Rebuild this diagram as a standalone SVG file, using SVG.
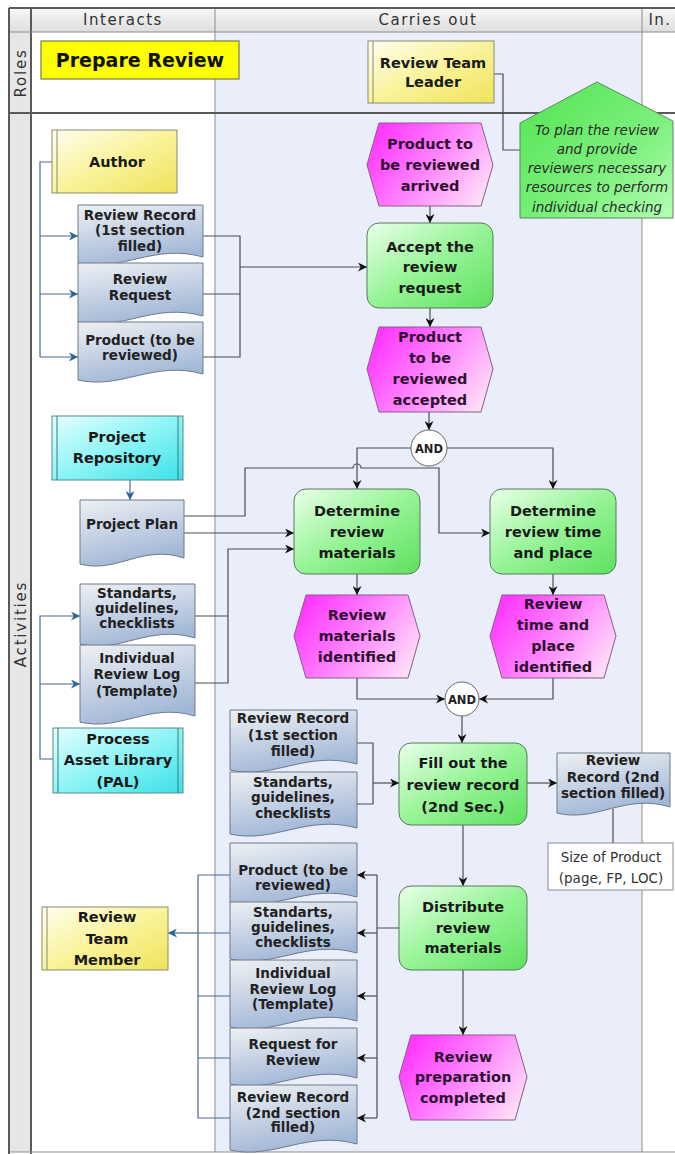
<svg xmlns="http://www.w3.org/2000/svg" width="675" height="1154" viewBox="0 0 675 1154">
  <style>
    text { font-family: "DejaVu Sans", "Liberation Sans", sans-serif; text-anchor: middle; }
    .hdr { font-size: 15px; fill: #333; letter-spacing: 1.5px; }
    .side { font-size: 15px; fill: #333; letter-spacing: 1.8px; }
    .t { font-size: 14.5px; font-weight: bold; fill: #1a1a1a; }
    .te { font-size: 14.5px; font-weight: bold; fill: #301030; }
    .td { font-size: 13.5px; font-weight: bold; fill: #222; }
    .tn { font-size: 13.5px; font-style: italic; fill: #2a2a2a; }
    .tp { font-size: 13.5px; fill: #333; }
    .role { fill: url(#gYellow); stroke: #8a8a70; stroke-width: 1; }
    .repo { fill: url(#gCyan); stroke: #5a8a8a; stroke-width: 1; }
    .func { fill: url(#gFunc); stroke: #5a7a5a; stroke-width: 1; }
    .evt { fill: url(#gEvt); stroke: #8a5a8a; stroke-width: 1; }
    .doc { fill: url(#gDoc); stroke: #6d7a8a; stroke-width: 1; }
    .dbl { stroke: #8a8a70; stroke-width: 1; fill: none; }
    .dblc { stroke: #3a7a7a; stroke-width: 1; fill: none; }
    .c { fill: none; stroke: #4d4d4d; stroke-width: 1.2; }
    .ca { fill: none; stroke: #4d4d4d; stroke-width: 1.2; marker-end: url(#ah); }
    .cb { fill: none; stroke: #4a6a8e; stroke-width: 1.2; }
    .cba { fill: none; stroke: #4a6a8e; stroke-width: 1.2; marker-end: url(#ahb); }
    .grid { stroke: #8c8c8c; stroke-width: 1; fill: none; }
    .gridk { stroke: #5a5a5a; stroke-width: 2; fill: none; }
  </style>
  <defs>
    <linearGradient id="gYellow" x1="0" y1="0" x2="1" y2="1">
      <stop offset="0" stop-color="#fffef0"/>
      <stop offset="0.5" stop-color="#f9f39a"/>
      <stop offset="1" stop-color="#efe35a"/>
    </linearGradient>
    <linearGradient id="gCyan" x1="0" y1="0" x2="1" y2="1">
      <stop offset="0" stop-color="#e4ffff"/>
      <stop offset="0.5" stop-color="#8ef4f6"/>
      <stop offset="1" stop-color="#3ae0e6"/>
    </linearGradient>
    <linearGradient id="gFunc" x1="0" y1="0" x2="1" y2="1">
      <stop offset="0" stop-color="#eaffea"/>
      <stop offset="0.5" stop-color="#96f496"/>
      <stop offset="1" stop-color="#5ee05e"/>
    </linearGradient>
    <linearGradient id="gEvt" x1="0" y1="0.3" x2="1" y2="0.8">
      <stop offset="0" stop-color="#ff38ff"/>
      <stop offset="0.5" stop-color="#ff88ff"/>
      <stop offset="1" stop-color="#ffe2f6"/>
    </linearGradient>
    <linearGradient id="gDoc" x1="0" y1="0" x2="0.35" y2="1">
      <stop offset="0" stop-color="#eef1f4"/>
      <stop offset="1" stop-color="#a2b7d6"/>
    </linearGradient>
    <linearGradient id="gNote" x1="0" y1="0" x2="1" y2="1">
      <stop offset="0" stop-color="#52e452"/>
      <stop offset="0.6" stop-color="#7cf07c"/>
      <stop offset="1" stop-color="#b4ffb4"/>
    </linearGradient>
    <linearGradient id="gHead" x1="0" y1="0" x2="0" y2="1">
      <stop offset="0" stop-color="#f6f6f6"/>
      <stop offset="1" stop-color="#dedede"/>
    </linearGradient>
    <marker id="ah" viewBox="0 0 10 10" refX="10" refY="5" markerWidth="10" markerHeight="9" orient="auto" markerUnits="userSpaceOnUse">
      <path d="M0,0 L10,5 L0,10 L3,5 Z" fill="#111"/>
    </marker>
    <marker id="ahb" viewBox="0 0 10 10" refX="10" refY="5" markerWidth="10" markerHeight="9" orient="auto" markerUnits="userSpaceOnUse">
      <path d="M0,0 L10,5 L0,10 L3,5 Z" fill="#2c6496"/>
    </marker>
  </defs>

  <!-- swimlane grid -->
  <g id="lanes">
    <rect x="0" y="0" width="675" height="1154" fill="#ffffff"/>
    <rect x="215" y="32" width="427" height="1120" fill="#e9eefa"/>
    <rect x="10" y="9" width="665" height="23" fill="url(#gHead)"/>
    <rect x="10" y="32" width="21" height="1120" fill="#e6e6e6"/>
    <path class="gridk" d="M9,8 H675 M9,8 V1154"/>
    <path class="gridk" d="M31,9 V1154"/>
    <path class="grid" d="M10,32 H675 M215,9 V1152 M642,9 V1152 M10,1152 H675"/>
    <path class="gridk" d="M10,113 H675" stroke="#8a8a8a"/>
    <text class="hdr" x="123" y="25">Interacts</text>
    <text class="hdr" x="428" y="25">Carries out</text>
    <text class="hdr" x="660" y="25">In.</text>
    <text class="side" transform="translate(26,73) rotate(-90)">Roles</text>
    <text class="side" transform="translate(26,624) rotate(-90)">Activities</text>
  </g>

  <!-- connectors -->
  <g id="connectors">
    <path class="c" d="M494,74 H503 V150 H520"/>
    <path class="cb" d="M52,162 H40 V357"/>
    <path class="cba" d="M40,236 H78"/>
    <path class="cba" d="M40,294 H78"/>
    <path class="cba" d="M40,357 H78"/>
    <path class="c" d="M203,236 H240 V357 H203 M203,294 H240"/>
    <path class="ca" d="M240,267 H367"/>
    <path class="ca" d="M430,206 V223"/>
    <path class="ca" d="M430,308 V327"/>
    <path class="ca" d="M429,412 V430"/>
    <path class="ca" d="M411,448 H357 V489"/>
    <path class="ca" d="M447,448 H553 V489"/>
    <path class="cba" d="M130,480 V500"/>
    <path class="ca" d="M184,516 H245 V468 H353 A4,4 0 0 1 361,468 H439 V533 H490"/>
    <path class="ca" d="M184,533 H294"/>
    <path class="c" d="M195,616 H228"/>
    <path class="ca" d="M195,683 H228 V549 H294"/>
    <path class="cb" d="M53,759 H40 V684"/>
    <path class="cba" d="M40,684 V616 H80"/>
    <path class="cba" d="M40,684 H80"/>
    <path class="ca" d="M357,574 V595"/>
    <path class="ca" d="M553,574 V595"/>
    <path class="ca" d="M357,678 V699 H445"/>
    <path class="ca" d="M553,678 V699 H479"/>
    <path class="ca" d="M462,716 V743"/>
    <path class="c" d="M357,743 H373 V804 H357"/>
    <path class="ca" d="M373,783 H399"/>
    <path class="ca" d="M527,783 H557"/>
    <path class="c" d="M613,809 V843"/>
    <path class="ca" d="M463,825 V886"/>
    <path class="ca" d="M463,970 V1035"/>
    <path class="c" d="M399,928 H377 M377,875 V1118"/>
    <path class="ca" d="M377,875 H357"/>
    <path class="ca" d="M377,933 H357"/>
    <path class="ca" d="M377,996 H357"/>
    <path class="ca" d="M377,1058 H357"/>
    <path class="ca" d="M377,1118 H357"/>
    <path class="cb" d="M230,875 H198 V1118 H230 M198,933 H230 M198,996 H230 M198,1058 H230"/>
    <path class="cba" d="M198,933 H168"/>
  </g>

  <!-- roles -->
  <g id="prepare-review">
    <rect x="41" y="41" width="198" height="38" fill="#ffff00" stroke="#7a7a50" stroke-width="1.2"/>
    <text x="140" y="67" style="font-size:19px;font-weight:bold;fill:#111">Prepare Review</text>
  </g>
  <g id="review-team-leader">
    <rect class="role" x="368" y="41" width="126" height="62"/>
    <path class="dbl" d="M373,41 V103"/>
    <text class="t" x="433" y="68">Review Team</text>
    <text class="t" x="433" y="87">Leader</text>
  </g>
  <g id="goal-note">
    <polygon points="520,123 597,82 673,121 673,218 520,218" fill="url(#gNote)" stroke="#5a8a5a" stroke-width="1"/>
    <text class="tn" x="597" y="135">To plan the review</text>
    <text class="tn" x="597" y="154">and provide</text>
    <text class="tn" x="597" y="173">reviewers necessary</text>
    <text class="tn" x="597" y="192">resources to perform</text>
    <text class="tn" x="597" y="212">individual checking</text>
  </g>
  <g id="author">
    <rect class="role" x="52" y="130" width="125" height="63"/>
    <path class="dbl" d="M57,130 V193"/>
    <text class="t" x="117" y="167">Author</text>
  </g>

  <!-- documents handed over by the author -->
  <g id="doc-review-record-1">
    <path class="doc" d="M78,205 H203 V257 C153,243 121.75,273 78,263 Z"/>
    <text class="td" x="140" y="220">Review Record</text>
    <text class="td" x="140" y="235">(1st section</text>
    <text class="td" x="140" y="251">filled)</text>
  </g>
  <g id="doc-review-request">
    <path class="doc" d="M78,263 H203 V316 C153,302 121.75,332 78,322 Z"/>
    <text class="td" x="140" y="284">Review</text>
    <text class="td" x="140" y="300">Request</text>
  </g>
  <g id="doc-product-1">
    <path class="doc" d="M78,322 H203 V374 C153,360 121.75,390 78,380 Z"/>
    <text class="td" x="140" y="345">Product (to be</text>
    <text class="td" x="140" y="360">reviewed)</text>
  </g>

  <!-- main flow -->
  <g id="evt-product-arrived">
    <polygon class="evt" points="379,123 481,123 493,165 481,206 379,206 367,165"/>
    <text class="te" x="430" y="149">Product to</text>
    <text class="te" x="430" y="170">be reviewed</text>
    <text class="te" x="430" y="191">arrived</text>
  </g>
  <g id="fn-accept-request">
    <rect class="func" x="367" y="223" width="126" height="85" rx="12"/>
    <text class="t" x="430" y="252">Accept the</text>
    <text class="t" x="430" y="272">review</text>
    <text class="t" x="430" y="293">request</text>
  </g>
  <g id="evt-product-accepted">
    <polygon class="evt" points="379,327 481,327 493,369 481,412 379,412 367,369"/>
    <text class="te" x="430" y="342">Product</text>
    <text class="te" x="430" y="363">to be</text>
    <text class="te" x="430" y="384">reviewed</text>
    <text class="te" x="430" y="405">accepted</text>
  </g>
  <g id="and-split">
    <circle cx="429" cy="448" r="18" fill="#ffffff" stroke="#666" stroke-width="1"/>
    <text x="429" y="452.5" style="font-size:11.5px;font-weight:bold;fill:#222">AND</text>
  </g>

  <g id="project-repository">
    <rect class="repo" x="52" y="416" width="131" height="64"/>
    <path class="dblc" d="M57,416 V480 M178,416 V480"/>
    <text class="t" x="117" y="442">Project</text>
    <text class="t" x="117" y="463">Repository</text>
  </g>
  <g id="doc-project-plan">
    <path class="doc" d="M80,500 H184 V558 C142.4,544 116.4,574 80,564 Z"/>
    <text class="td" x="132" y="529">Project Plan</text>
  </g>
  <g id="doc-standards-1">
    <path class="doc" d="M80,584 H195 V638 C149,624 120.25,654 80,644 Z"/>
    <text class="td" x="137" y="598">Standarts,</text>
    <text class="td" x="137" y="613">guidelines,</text>
    <text class="td" x="137" y="628">checklists</text>
  </g>
  <g id="doc-review-log-1">
    <path class="doc" d="M80,645 H195 V716 C149,702 120.25,732 80,722 Z"/>
    <text class="td" x="137" y="663">Individual</text>
    <text class="td" x="137" y="679">Review Log</text>
    <text class="td" x="137" y="696">(Template)</text>
  </g>
  <g id="process-asset-library">
    <rect class="repo" x="53" y="728" width="130" height="65"/>
    <path class="dblc" d="M58,728 V793 M178,728 V793"/>
    <text class="t" x="118" y="744">Process</text>
    <text class="t" x="118" y="765">Asset Library</text>
    <text class="t" x="118" y="787">(PAL)</text>
  </g>

  <g id="fn-determine-materials">
    <rect class="func" x="294" y="489" width="126" height="85" rx="12"/>
    <text class="t" x="357" y="516">Determine</text>
    <text class="t" x="357" y="537">review</text>
    <text class="t" x="357" y="558">materials</text>
  </g>
  <g id="fn-determine-time">
    <rect class="func" x="490" y="489" width="126" height="85" rx="12"/>
    <text class="t" x="553" y="516">Determine</text>
    <text class="t" x="553" y="537">review time</text>
    <text class="t" x="553" y="558">and place</text>
  </g>
  <g id="evt-materials-identified">
    <polygon class="evt" points="306,595 408,595 420,636 408,678 306,678 294,636"/>
    <text class="te" x="357" y="620">Review</text>
    <text class="te" x="357" y="641">materials</text>
    <text class="te" x="357" y="662">identified</text>
  </g>
  <g id="evt-time-identified">
    <polygon class="evt" points="502,595 604,595 616,636 604,678 502,678 490,636"/>
    <text class="te" x="553" y="609">Review</text>
    <text class="te" x="553" y="630">time and</text>
    <text class="te" x="553" y="651">place</text>
    <text class="te" x="553" y="672">identified</text>
  </g>
  <g id="and-join">
    <circle cx="462" cy="699" r="17" fill="#ffffff" stroke="#666" stroke-width="1"/>
    <text x="462" y="703.5" style="font-size:11.5px;font-weight:bold;fill:#222">AND</text>
  </g>

  <g id="doc-review-record-2">
    <path class="doc" d="M230,710 H357 V764 C306.2,750 274.45,780 230,770 Z"/>
    <text class="td" x="293" y="723">Review Record</text>
    <text class="td" x="293" y="740">(1st section</text>
    <text class="td" x="293" y="756">filled)</text>
  </g>
  <g id="doc-standards-2">
    <path class="doc" d="M230,772 H357 V828 C306.2,814 274.45,844 230,834 Z"/>
    <text class="td" x="293" y="787">Standarts,</text>
    <text class="td" x="293" y="802">guidelines,</text>
    <text class="td" x="293" y="818">checklists</text>
  </g>
  <g id="fn-fill-record">
    <rect class="func" x="399" y="743" width="128" height="82" rx="12"/>
    <text class="t" x="463" y="768">Fill out the</text>
    <text class="t" x="463" y="790">review record</text>
    <text class="t" x="463" y="812">(2nd Sec.)</text>
  </g>
  <g id="doc-review-record-out">
    <path class="doc" d="M557,753 H670 V807 C624.8,793 596.55,823 557,813 Z"/>
    <text class="td" x="613" y="765">Review</text>
    <text class="td" x="613" y="782">Record (2nd</text>
    <text class="td" x="613" y="798">section filled)</text>
  </g>
  <g id="size-of-product">
    <rect x="548" y="843" width="125" height="47" fill="#ffffff" stroke="#8a8a8a" stroke-width="1"/>
    <text class="tp" x="611" y="862">Size of Product</text>
    <text class="tp" x="611" y="883">(page, FP, LOC)</text>
  </g>

  <g id="fn-distribute">
    <rect class="func" x="399" y="886" width="128" height="84" rx="12"/>
    <text class="t" x="463" y="912">Distribute</text>
    <text class="t" x="463" y="933">review</text>
    <text class="t" x="463" y="953">materials</text>
  </g>
  <g id="evt-preparation-completed">
    <polygon class="evt" points="411,1035 515,1035 527,1077 515,1120 411,1120 399,1077"/>
    <text class="te" x="463" y="1062">Review</text>
    <text class="te" x="463" y="1082">preparation</text>
    <text class="te" x="463" y="1103">completed</text>
  </g>

  <!-- materials handed to the team members -->
  <g id="doc-product-2">
    <path class="doc" d="M230,843 H357 V897 C306.2,883 274.45,913 230,903 Z"/>
    <text class="td" x="293" y="875">Product (to be</text>
    <text class="td" x="293" y="890">reviewed)</text>
  </g>
  <g id="doc-standards-3">
    <path class="doc" d="M230,902 H357 V953 C306.2,939 274.45,969 230,959 Z"/>
    <text class="td" x="293" y="917">Standarts,</text>
    <text class="td" x="293" y="932">guidelines,</text>
    <text class="td" x="293" y="947">checklists</text>
  </g>
  <g id="doc-review-log-2">
    <path class="doc" d="M230,960 H357 V1021 C306.2,1007 274.45,1037 230,1027 Z"/>
    <text class="td" x="293" y="978">Individual</text>
    <text class="td" x="293" y="994">Review Log</text>
    <text class="td" x="293" y="1009">(Template)</text>
  </g>
  <g id="doc-request-for-review">
    <path class="doc" d="M230,1028 H357 V1078 C306.2,1064 274.45,1094 230,1084 Z"/>
    <text class="td" x="293" y="1049">Request for</text>
    <text class="td" x="293" y="1065">Review</text>
  </g>
  <g id="doc-review-record-3">
    <path class="doc" d="M230,1085 H357 V1144 C306.2,1130 274.45,1160 230,1150 Z"/>
    <text class="td" x="293" y="1102">Review Record</text>
    <text class="td" x="293" y="1118">(2nd section</text>
    <text class="td" x="293" y="1132">filled)</text>
  </g>
  <g id="review-team-member">
    <rect class="role" x="42" y="907" width="126" height="63"/>
    <path class="dbl" d="M47,907 V970"/>
    <text class="t" x="107" y="922">Review</text>
    <text class="t" x="107" y="944">Team</text>
    <text class="t" x="107" y="965">Member</text>
  </g>
</svg>
